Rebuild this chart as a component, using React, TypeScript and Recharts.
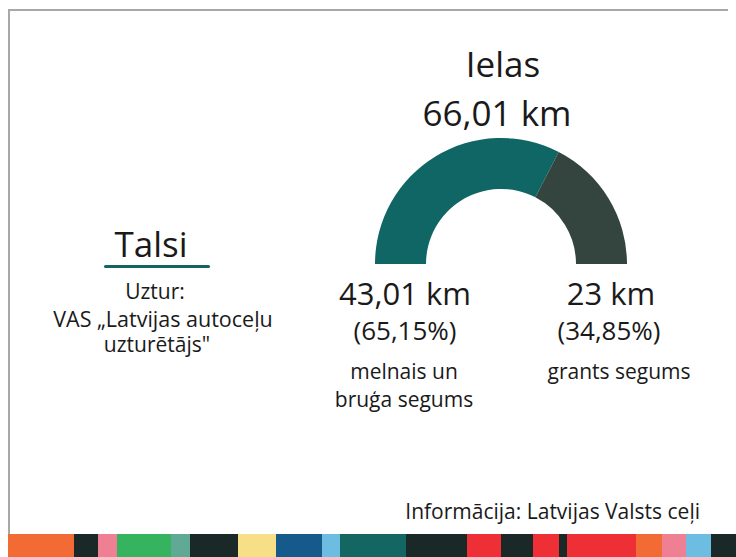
import React from 'react';
import { PieChart, Pie, Cell } from 'recharts';

const segments = ['melnais un bruģa segums', 'grants segums'];
const lengths = [43.01, 23];
const shares = ['65,15%', '34,85%'];
const sliceColors = ['#0f6664', '#34453f'];
const stripColors = [
  '#f26b35', '#1b2828', '#ef7f93', '#35b35e', '#60aa95', '#1b2828', '#f6df86',
  '#155a8a', '#6dbde3', '#136662', '#1b2828', '#ee2f35', '#1b2828', '#ee2f35',
  '#1b2828', '#ee2f35', '#f26b35', '#ef7f93', '#6dbde3', '#1b2828',
];
const stripWidths = [66, 24, 19, 54, 19, 48, 38, 46, 18, 66, 61, 34, 32, 26, 8, 69, 26, 24, 25, 25];

const data = segments.map((name, i) => ({ name, value: lengths[i] }));

const fmt = (v: number) => (Number.isInteger(v) ? String(v) : v.toFixed(2)).replace('.', ',');

const ink = '#1a1a1a';

// absolute text, centred on cx, placed by baseline
const Label = ({ cx, base, size, children, align = 'center' }: any) => (
  <div
    style={{
      position: 'absolute',
      left: align === 'right' ? undefined : cx - 200,
      right: align === 'right' ? 728 - cx : undefined,
      width: align === 'right' ? undefined : 400,
      top: base - 0.888 * size,
      fontSize: size,
      lineHeight: 1,
      textAlign: align,
      whiteSpace: 'nowrap',
      color: ink,
    }}
  >
    {children}
  </div>
);

const App: React.FC = () => {
  const total = lengths.reduce((a, b) => a + b, 0);
  return (
    <div
      style={{
        position: 'relative',
        width: 728,
        height: 541,
        background: '#fff',
        fontFamily: '"Open Sans", sans-serif',
      }}
    >
      <div style={{ position: 'absolute', left: 0, top: 1, width: 728, height: 2, background: '#a8a8a8' }} />
      <div style={{ position: 'absolute', left: 0, top: 1, width: 2, height: 530, background: '#a8a8a8' }} />

      <div style={{ position: 'absolute', left: 0, top: 0 }}>
        <PieChart width={728} height={530} margin={{ top: 0, right: 0, bottom: 0, left: 0 }}>
          <Pie
            data={data}
            dataKey="value"
            cx={493}
            cy={256}
            startAngle={180}
            endAngle={0}
            innerRadius={75}
            outerRadius={126}
            stroke="none"
            isAnimationActive={false}
          >
            {data.map((d, i) => (
              <Cell key={d.name} fill={sliceColors[i]} />
            ))}
          </Pie>
        </PieChart>
      </div>

      <Label cx={495} base={69} size={35}>Ielas</Label>
      <Label cx={489} base={118} size={35}>{fmt(total)} km</Label>

      <Label cx={397} base={298} size={31}>{fmt(lengths[0])} km</Label>
      <Label cx={397} base={332} size={26}>({shares[0]})</Label>
      <Label cx={396} base={372} size={21}>melnais un</Label>
      <Label cx={396} base={400} size={21}>bruģa segums</Label>

      <Label cx={603} base={298} size={31}>{fmt(lengths[1])} km</Label>
      <Label cx={601} base={332} size={26}>({shares[1]})</Label>
      <Label cx={611} base={372} size={21}>{segments[1]}</Label>

      <Label cx={143} base={249} size={35}>Talsi</Label>
      <div
        style={{
          position: 'absolute',
          left: 96,
          top: 257,
          width: 106,
          height: 3,
          borderRadius: 2,
          background: '#136563',
        }}
      />
      <Label cx={147} base={292} size={21}>Uztur:</Label>
      <Label cx={155} base={319} size={21.5}>VAS „Latvijas autoceļu</Label>
      <Label cx={149} base={345} size={21}>uzturētājs"</Label>

      <Label cx={692} base={512} size={21} align="right">Informācija: Latvijas Valsts ceļi</Label>

      <div style={{ position: 'fixed', left: 8, bottom: 0, height: 23, display: 'flex' }}>
        {stripColors.map((c, i) => (
          <div key={i} style={{ width: stripWidths[i], height: 23, background: c }} />
        ))}
      </div>
    </div>
  );
};

export default App;
